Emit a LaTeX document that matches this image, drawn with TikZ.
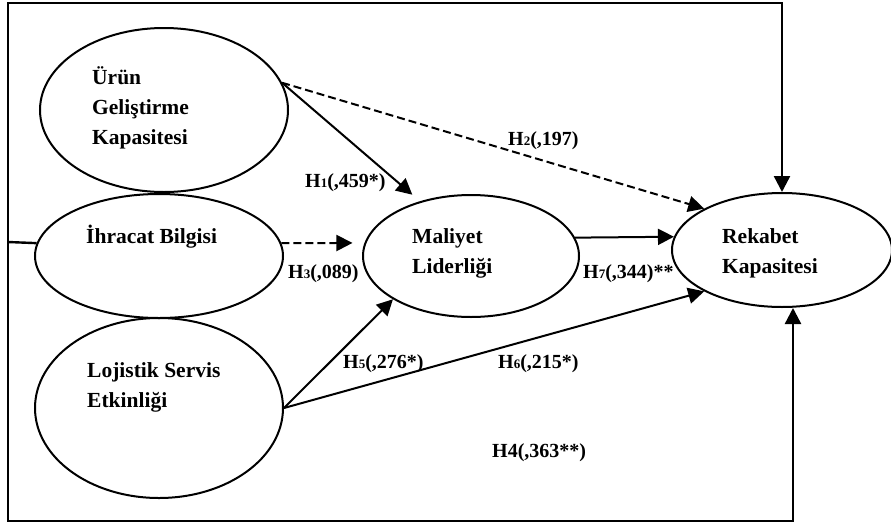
\documentclass[tikz,border=0pt]{standalone}
\usepackage{fontspec}
\setmainfont{Liberation Serif}
\usetikzlibrary{positioning,shapes.geometric,arrows.meta}
\newcommand{\hnum}[1]{{\fontsize{13}{13}\selectfont #1}}

\begin{document}
\begin{tikzpicture}[x=1pt,y=-1pt,
  construct/.style={draw,ellipse,line width=2pt,inner sep=0pt},
  ctext/.style={anchor=base west,inner sep=0pt,align=left,font=\fontsize{21.5}{30}\selectfont\bfseries},
  hlabel/.style={anchor=base west,inner sep=0pt,font=\fontsize{20}{24}\selectfont\bfseries},
  link/.style={line width=2pt,-{Triangle[length=16pt,width=16pt]}},
  dlink/.style={link,dash pattern=on 8pt off 4pt},
  loop/.style={line width=2.4pt}]
\useasboundingbox (0,0) rectangle (891,525);
% constructs
\node[construct,minimum width=248pt,minimum height=164pt] (urun) at (164,110) {};
\node[construct,minimum width=248pt,minimum height=124pt] (ihracat) at (159,256) {};
\node[construct,minimum width=248pt,minimum height=180pt] (lojistik) at (159,408) {};
\node[construct,minimum width=216pt,minimum height=122pt] (maliyet) at (471,256) {};
\node[construct,minimum width=220pt,minimum height=114pt] (rekabet) at (782,250) {};
\node[ctext] (urunT) at (92,144) {Ürün\\Geliştirme\\Kapasitesi};
\node[ctext] (ihracatT) at (86,243) {İhracat Bilgisi};
\node[ctext] (lojistikT) at (87,407) {Lojistik Servis\\Etkinliği};
\node[ctext] (maliyetT) at (412,273) {Maliyet\\Liderliği};
\node[ctext] (rekabetT) at (722,273) {Rekabet\\Kapasitesi};
% paths
\draw[link,shorten >=10pt] (urun.13) -- (maliyet.133);
\draw[dlink] (urun.13) -- (rekabet.152);
\draw[dlink,shorten >=12pt] (ihracat.6) -- (maliyet.173);
\draw[link] (maliyet.10) -- (rekabet.173);
\draw[link] (lojistik.east) -- (maliyet.209);
\draw[link] (lojistik.east) -- (rekabet.208);
% H4 round the frame
\coordinate (split) at (8,242);
\coordinate (topleft) at (8,3);
\coordinate (botleft) at (8,521);
\draw[loop] (ihracat.174) -- (split);
\draw[loop,-{Triangle[length=16pt,width=16pt]}] (split) -- (topleft) -| (rekabet.north);
\draw[loop,-{Triangle[length=16pt,width=16pt]}] (split) -- (botleft) -| ([xshift=11pt]rekabet.south);
% labels
\node[hlabel] (h1) at (305,187) {H\hnum{1}(,459*)};
\node[hlabel] (h2) at (508,145) {H\hnum{2}(,197)};
\node[hlabel] (h3) at (288,278) {H\hnum{3}(,089)};
\node[hlabel] (h7) at (583,278) {H\hnum{7}(,344)**};
\node[hlabel] (h5) at (343,368) {H\hnum{5}(,276*)};
\node[hlabel] (h6) at (498,368) {H\hnum{6}(,215*)};
\node[hlabel] (h4) at (492,457) {H4(,363**)};
\end{tikzpicture}
\end{document}
